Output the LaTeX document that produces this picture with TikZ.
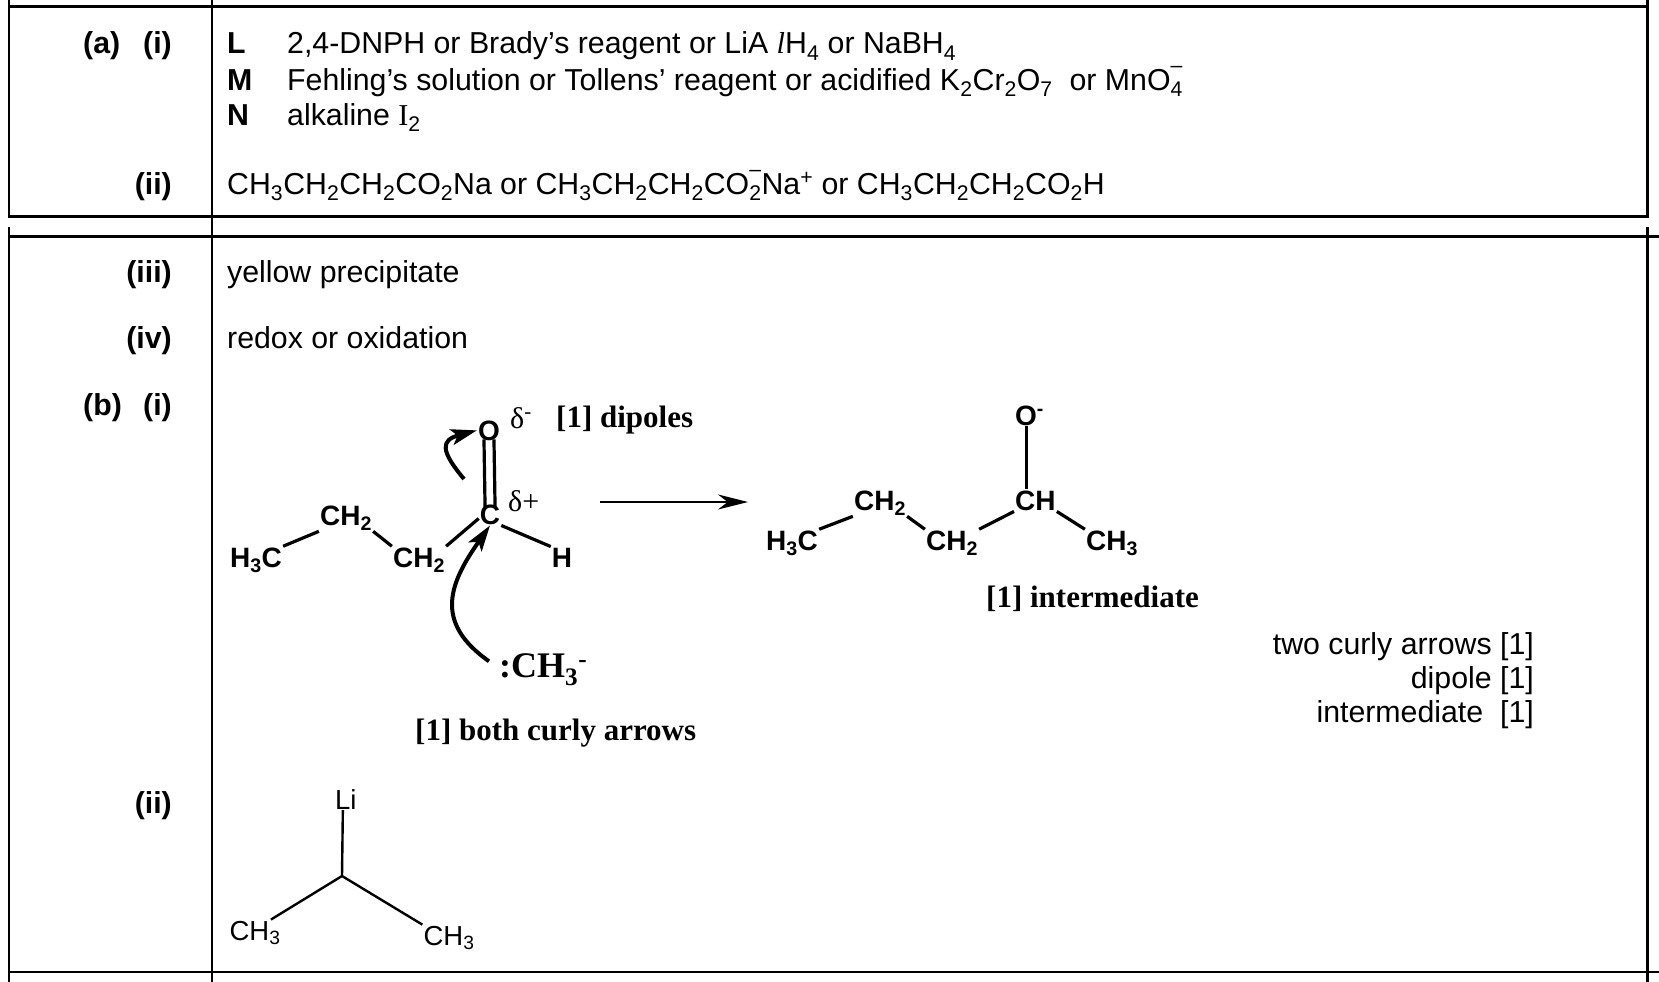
\documentclass[tikz,border=0pt]{standalone}
\usepackage{fontspec}
\setmainfont{Liberation Sans}
\newfontfamily\tms{Liberation Serif}
\usetikzlibrary{arrows.meta}
\newcommand{\chsub}[1]{\textsubscript{#1}}
\newcommand{\chsup}[1]{\textsuperscript{#1}}
\newcommand{\chboth}[2]{\rlap{\textsubscript{#1}}\textsuperscript{\raisebox{0.4em}{#2}}}
\begin{document}
\begin{tikzpicture}[x=1pt, y=-1pt,
  txt/.style={inner sep=0pt, font=\fontsize{30.3}{36}\selectfont},
  lbl/.style={inner sep=0pt, font=\fontsize{30.3}{36}\selectfont\bfseries},
  tnote/.style={inner sep=0pt, font=\fontsize{31}{37}\selectfont\tms\bfseries},
  atom/.style={inner sep=1pt, font=\fontsize{28}{33}\selectfont\bfseries},
  atomthin/.style={inner sep=1pt, font=\fontsize{27.5}{33}\selectfont},
  bond/.style={-, line width=3.2pt},
  thinbond/.style={-, line width=2.4pt},
  curly/.style={line width=4pt, -{Stealth[length=26pt,width=16pt,inset=6pt]}},
  rxn/.style={line width=2.8pt, -{Stealth[length=30pt,width=15pt]}},
  tbl/.style={line width=2.7pt}]
\useasboundingbox (0,0) rectangle (1659,982);
\draw[tbl] (9,0) -- (9,216.7) -- (1647.5,216.7) -- (1647.5,0);
\draw[tbl] (9,6.7) -- (1647.5,6.7);
\draw[tbl] (9,227) -- (9,982);
\draw[tbl] (1647.5,227) -- (1647.5,982);
\draw[tbl] (9,236.7) -- (1659,236.7);
\draw[tbl] (9,972) -- (1659,972);
\draw[line width=1.7pt] (211.7,0) -- (211.7,982);
\node[lbl, anchor=base west] (pa) at (83,54) {(a)};
\node[lbl, anchor=base east] (pai) at (172,54) {(i)};
\node[lbl, anchor=base west] (kL) at (227,54) {L};
\node[lbl, anchor=base west] (kM) at (227,90) {M};
\node[lbl, anchor=base west] (kN) at (227,125) {N};
\node[txt, anchor=base west] (tL) at (287,54) {2,4-DNPH or Brady’s reagent or LiA {\tms\itshape l}H\chsub{4} or NaBH\chsub{4}};
\node[txt, anchor=base west] (tM) at (287,90) {Fehling’s solution or Tollens’ reagent or acidified K\chsub{2}Cr\chsub{2}O\chsub{7}\ \ or MnO\chboth{4}{–}};
\node[txt, anchor=base west] (tN) at (287,125) {alkaline {\tms I}\chsub{2}};
\node[lbl, anchor=base east] (paii) at (172,194) {(ii)};
\node[txt, anchor=base west] (tii) at (227,194) {CH\chsub{3}CH\chsub{2}CH\chsub{2}CO\chsub{2}Na or CH\chsub{3}CH\chsub{2}CH\chsub{2}CO\chboth{2}{–}Na\chsup{+} or CH\chsub{3}CH\chsub{2}CH\chsub{2}CO\chsub{2}H};
\node[lbl, anchor=base east] (paiii) at (172,282) {(iii)};
\node[txt, anchor=base west] (tiii) at (227,282) {yellow precipitate};
\node[lbl, anchor=base east] (paiv) at (172,348) {(iv)};
\node[txt, anchor=base west] (tiv) at (227,348) {redox or oxidation};
\node[lbl, anchor=base west] (pb) at (83,415) {(b)};
\node[lbl, anchor=base east] (pbi) at (172,415) {(i)};
\node[lbl, anchor=base east] (pbii) at (172,813) {(ii)};
\node[atom, anchor=base] (h3c1) at (256,567) {H\chsub{3}C};
\node[atom, anchor=base] (ch2a) at (346,525) {CH\chsub{2}};
\node[atom, anchor=base] (ch2b) at (419,567) {CH\chsub{2}};
\node[atom, anchor=base] (c1) at (490,524) {C};
\node[atom, anchor=base] (o1) at (489,440) {O};
\node[atom, anchor=base] (h1) at (562,567) {H};
\node[inner sep=0pt, anchor=base west, font=\fontsize{30}{36}\selectfont\tms] (dm) at (510,428) {δ\chsup{-}};
\node[inner sep=0pt, anchor=base west, font=\fontsize{30}{36}\selectfont\tms] (dp) at (508,511) {δ+};
\node[tnote, anchor=base west] (n1) at (556,427) {[1] dipoles};
\node[inner sep=1pt, anchor=base west, font=\fontsize{36}{42}\selectfont\tms\bfseries] (ch3m) at (498,677) {:CH\chsub{3}\chsup{-}};
\node[tnote, anchor=base west] (n2) at (415,740) {[1] both curly arrows};
\path [bond] (h3c1.north east) edge (ch2a.south west);
\path [bond] (ch2a.south east) edge (ch2b.north west);
\path [bond] (ch2b.north east) edge (c1.200);
\path [bond] (c1.south east) edge (h1.north west);
\path [bond, shorten <=-2pt, shorten >=-4pt] ([xshift=-5pt]o1.south) edge ([xshift=-5pt]c1.north);
\path [bond, shorten <=-2pt, shorten >=-4pt] ([xshift=5pt]o1.south) edge ([xshift=5pt]c1.north);
\coordinate (t1) at (464,479);
\draw[curly] (t1) to[out=130, in=195, looseness=1.9] (o1.west);
\draw[curly] ([xshift=-9pt, yshift=8pt]ch3m.west) to[out=145, in=235, looseness=1.3] (c1.south);
\coordinate (rs) at (600,502);
\coordinate (re) at (748,502);
\draw[rxn] (rs) -- (re);
\node[atom, anchor=base west] (o2) at (1014,425) {O\rlap{\chsup{-}}};
\node[atom, anchor=base west] (ch) at (1014,510) {CH};
\node[atom, anchor=base] (ch2c) at (880,510) {CH\chsub{2}};
\node[atom, anchor=base] (h3c2) at (792,550) {H\chsub{3}C};
\node[atom, anchor=base] (ch2d) at (952,550) {CH\chsub{2}};
\node[atom, anchor=base] (ch3b) at (1112,550) {CH\chsub{3}};
\path [bond] (o2.south) edge (o2.south |- ch.north);
\path [bond] (h3c2.north east) edge (ch2c.south west);
\path [bond] (ch2c.south east) edge (ch2d.north west);
\path [bond] (ch2d.north east) edge (ch.south west);
\path [bond] (ch.south east) edge (ch3b.north west);
\node[tnote, anchor=base west] (n3) at (986,607) {[1] intermediate};
\node[txt, anchor=base east] (r1) at (1534,654) {two curly arrows [1]};
\node[txt, anchor=base east] (r2) at (1534,688) {dipole [1]};
\node[txt, anchor=base east] (r3) at (1534,722) {intermediate\ \ [1]};
\node[atomthin, anchor=base west] (li) at (334,809) {L\rlap{i}};
\coordinate (cc) at (342,876);
\node[atomthin, anchor=base] (ch3l) at (255,940) {CH\chsub{3}};
\node[atomthin, anchor=base] (ch3r) at (449,945) {CH\chsub{3}};
\path [thinbond] (li.south) edge (cc);
\path [thinbond] (cc) edge (ch3l.40);
\path [thinbond] (cc) edge (ch3r.north west);
\end{tikzpicture}
\end{document}
